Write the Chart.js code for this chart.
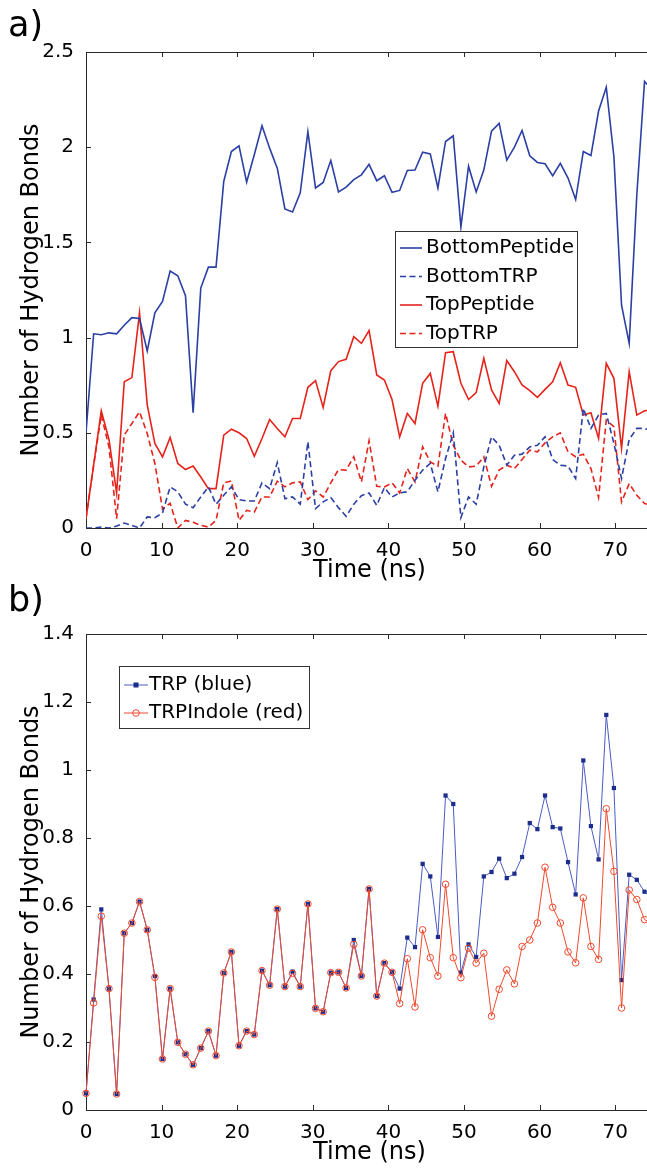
<!DOCTYPE html>
<html>
<head>
<meta charset="utf-8">
<script src="https://cdn.jsdelivr.net/npm/chart.js@4.4.1/dist/chart.umd.min.js"></script>
<style>
  html, body { margin: 0; padding: 0; background: #fff; overflow: hidden; }
  body { width: 647px; height: 1170px; position: relative; }
  .panel { position: absolute; left: 0; width: 660px; height: 585px; }
  #wrapA { top: 0; }
  #wrapB { top: 582px; }
  .tag { position: absolute; left: 8px; font-family: "DejaVu Sans", sans-serif; font-size: 35px; line-height: 35px; color: #000; }
</style>
</head>
<body>
<div class="panel" id="wrapA"><canvas id="chartA" width="660" height="585"></canvas></div>
<div class="panel" id="wrapB"><canvas id="chartB" width="660" height="585"></canvas></div>
<div class="tag" style="top:7px">a)</div>
<div class="tag" style="top:582px">b)</div>
<script>
// Time axis (ns), one sample per frame
const timeNs = [0, 1.01, 2.02, 3.04, 4.05, 5.06, 6.07, 7.08, 8.10, 9.11, 10.12, 11.13, 12.14, 13.16, 14.17,
  15.18, 16.19, 17.20, 18.22, 19.23, 20.24, 21.25, 22.26, 23.28, 24.29, 25.30, 26.31, 27.32, 28.34, 29.35,
  30.36, 31.37, 32.38, 33.40, 34.41, 35.42, 36.43, 37.44, 38.46, 39.47, 40.48, 41.49, 42.50, 43.52, 44.53,
  45.54, 46.55, 47.56, 48.58, 49.59, 50.60, 51.61, 52.62, 53.64, 54.65, 55.66, 56.67, 57.68, 58.70, 59.71,
  60.72, 61.73, 62.74, 63.76, 64.77, 65.78, 66.79, 67.80, 68.82, 69.83, 70.84, 71.85, 72.86, 73.88, 74.89];

// Panel a)
const bottomPeptide = [0.50, 1.02, 1.015, 1.025, 1.02, 1.065, 1.105, 1.10, 0.93, 1.13, 1.19, 1.35, 1.325, 1.22, 0.605,
  1.26, 1.37, 1.37, 1.82, 1.977, 2.007, 1.817, 1.96, 2.113, 1.995, 1.89, 1.676, 1.66, 1.76, 2.082,
  1.786, 1.815, 1.93, 1.765, 1.79, 1.83, 1.855, 1.91, 1.824, 1.85, 1.763, 1.773, 1.878, 1.88, 1.974,
  1.965, 1.786, 2.03, 2.06, 1.58, 1.90, 1.765, 1.88, 2.084, 2.125, 1.932, 2.0, 2.088, 1.955, 1.92,
  1.913, 1.85, 1.915, 1.838, 1.725, 1.977, 1.956, 2.19, 2.315, 1.95, 1.17, 0.97, 1.75, 2.345, 2.3];
const bottomTRP = [0, 0, 0.005, 0, 0.01, 0.026, 0.014, 0, 0.058, 0.054, 0.079, 0.216, 0.19, 0.125, 0.107,
  0.163, 0.216, 0.125, 0.172, 0.216, 0.149, 0.142, 0.142, 0.237, 0.207, 0.344, 0.154, 0.163, 0.125, 0.453,
  0.102, 0.137, 0.16, 0.107, 0.061, 0.125, 0.17, 0.184, 0.119, 0.212, 0.163, 0.184, 0.19, 0.251, 0.304,
  0.339, 0.19, 0.365, 0.5, 0.054, 0.163, 0.125, 0.321, 0.479, 0.435, 0.33, 0.382, 0.388, 0.426, 0.435,
  0.479, 0.36, 0.33, 0.325, 0.26, 0.628, 0.523, 0.593, 0.602, 0.444, 0.26, 0.465, 0.523, 0.523, 0.51];
const topPeptide = [0.05, 0.33, 0.616, 0.465, 0.184, 0.768, 0.79, 1.13, 0.646, 0.444, 0.374, 0.475, 0.339, 0.307, 0.325,
  0.268, 0.207, 0.207, 0.488, 0.519, 0.5, 0.47, 0.377, 0.47, 0.57, 0.523, 0.479, 0.575, 0.575, 0.739,
  0.774, 0.633, 0.826, 0.874, 0.886, 1.005, 0.97, 1.037, 0.804, 0.777, 0.675, 0.479, 0.602, 0.549, 0.76,
  0.812, 0.64, 0.921, 0.926, 0.76, 0.675, 0.711, 0.891, 0.725, 0.654, 0.879, 0.821, 0.751, 0.721, 0.686,
  0.728, 0.768, 0.868, 0.751, 0.739, 0.593, 0.605, 0.47, 0.865, 0.786, 0.418, 0.821, 0.593, 0.616, 0.62];
const topTRP = [0.05, 0.33, 0.593, 0.426, 0.049, 0.488, 0.549, 0.61, 0.496, 0.339, 0.1, 0.13, 0.0, 0.04, 0.03,
  0.014, 0.005, 0.04, 0.237, 0.247, 0.04, 0.093, 0.084, 0.163, 0.163, 0.246, 0.216, 0.237, 0.242, 0.149,
  0.195, 0.163, 0.237, 0.307, 0.304, 0.374, 0.242, 0.458, 0.219, 0.216, 0.237, 0.184, 0.312, 0.242, 0.426,
  0.347, 0.325, 0.602, 0.435, 0.356, 0.321, 0.325, 0.374, 0.219, 0.304, 0.33, 0.312, 0.36, 0.409, 0.4,
  0.447, 0.479, 0.5, 0.4, 0.374, 0.388, 0.312, 0.16, 0.567, 0.532, 0.137, 0.233, 0.172, 0.128, 0.12];

// Panel b)
const trpBlue = [0.049, 0.325, 0.59, 0.357, 0.047, 0.52, 0.55, 0.613, 0.53, 0.394, 0.15, 0.357, 0.199, 0.164, 0.133,
  0.182, 0.232, 0.16, 0.403, 0.465, 0.189, 0.232, 0.222, 0.41, 0.367, 0.591, 0.363, 0.407, 0.363, 0.606,
  0.299, 0.289, 0.404, 0.405, 0.359, 0.50, 0.394, 0.65, 0.335, 0.432, 0.405, 0.357, 0.507, 0.479, 0.724,
  0.687, 0.509, 0.925, 0.90, 0.404, 0.487, 0.45, 0.687, 0.70, 0.739, 0.682, 0.695, 0.744, 0.844, 0.826,
  0.925, 0.832, 0.828, 0.729, 0.634, 1.028, 0.835, 0.737, 1.162, 0.947, 0.382, 0.692, 0.677, 0.642, 0.62];
const trpIndoleRed = [0.049, 0.315, 0.57, 0.357, 0.047, 0.52, 0.55, 0.613, 0.53, 0.39, 0.15, 0.357, 0.199, 0.164, 0.133,
  0.182, 0.232, 0.16, 0.403, 0.465, 0.189, 0.232, 0.222, 0.41, 0.367, 0.591, 0.363, 0.402, 0.363, 0.606,
  0.299, 0.289, 0.404, 0.405, 0.359, 0.487, 0.394, 0.65, 0.335, 0.432, 0.405, 0.313, 0.445, 0.303, 0.53,
  0.448, 0.394, 0.664, 0.448, 0.389, 0.476, 0.432, 0.461, 0.276, 0.355, 0.412, 0.371, 0.481, 0.50, 0.55,
  0.714, 0.596, 0.55, 0.465, 0.433, 0.624, 0.481, 0.443, 0.886, 0.702, 0.30, 0.647, 0.619, 0.56, 0.55];

const xTicks = [0, 10, 20, 30, 40, 50, 60, 70];
const yTicksA = [0, 0.5, 1, 1.5, 2, 2.5];
const yTicksB = [0, 0.2, 0.4, 0.6, 0.8, 1, 1.2, 1.4];

const FONT = '"DejaVu Sans", sans-serif';
const pts = arr => timeNs.map((t, i) => ({ x: t, y: arr[i] }));

// box with inward tick marks, matlab style
const framePlugin = {
  id: 'frame',
  beforeDatasetsDraw(chart) {
    const { ctx, chartArea: a, scales: { x, y } } = chart;
    ctx.save();
    ctx.strokeStyle = '#2a2a2a';
    ctx.lineWidth = 1;
    ctx.strokeRect(Math.round(a.left) + 0.5, Math.round(a.top) + 0.5, Math.round(a.right - a.left), Math.round(a.bottom - a.top));
    ctx.beginPath();
    x.ticks.forEach(t => {
      const px = Math.round(x.getPixelForValue(t.value)) + 0.5;
      ctx.moveTo(px, a.bottom); ctx.lineTo(px, a.bottom - 5);
      ctx.moveTo(px, a.top); ctx.lineTo(px, a.top + 5);
    });
    y.ticks.forEach(t => {
      const py = Math.round(y.getPixelForValue(t.value)) + 0.5;
      ctx.moveTo(a.left, py); ctx.lineTo(a.left + 5, py);
      ctx.moveTo(a.right, py); ctx.lineTo(a.right - 5, py);
    });
    ctx.stroke();
    ctx.restore();
  }
};

// legend box drawn inside the axes
const boxLegend = {
  id: 'boxLegend',
  afterDraw(chart, args, o) {
    const { ctx } = chart;
    ctx.save();
    ctx.fillStyle = '#fff';
    ctx.fillRect(o.left, o.top, o.width, o.height);
    ctx.strokeStyle = '#333';
    ctx.lineWidth = 1;
    ctx.strokeRect(o.left + 0.5, o.top + 0.5, o.width, o.height);
    chart.data.datasets.forEach((ds, i) => {
      const cy = o.top + o.firstRow + i * o.rowH;
      const x0 = o.left + 5, x1 = o.left + 5 + o.lineLen;
      ctx.strokeStyle = ds.borderColor;
      ctx.lineWidth = ds.borderWidth;
      ctx.setLineDash(ds.borderDash || []);
      ctx.beginPath(); ctx.moveTo(x0, cy); ctx.lineTo(x1, cy); ctx.stroke();
      ctx.setLineDash([]);
      const mx = (x0 + x1) / 2;
      if (ds.pointStyle === 'rect') {
        ctx.fillStyle = ds.pointBackgroundColor;
        ctx.fillRect(mx - 2.5, cy - 2.5, 5, 5);
      } else if (ds.pointStyle === 'circle' && ds.pointRadius) {
        ctx.strokeStyle = ds.pointBorderColor;
        ctx.lineWidth = 1;
        ctx.beginPath(); ctx.arc(mx, cy, ds.pointRadius, 0, Math.PI * 2); ctx.stroke();
      }
      ctx.fillStyle = '#000';
      ctx.font = '20px ' + FONT;
      ctx.textBaseline = 'middle';
      ctx.fillText(ds.label, o.left + o.textX, cy);
    });
    ctx.restore();
  }
};

function axes(yMax, yTicks) {
  return {
    x: {
      type: 'linear', min: 0, max: 75,
      afterBuildTicks: s => { s.ticks = xTicks.map(v => ({ value: v })); },
      afterFit: s => { s.height = 57; },
      grid: { display: false }, border: { display: false },
      ticks: { color: '#000', padding: 3, font: { family: FONT, size: 20 }, maxRotation: 0, callback: v => `${v}` },
      title: { display: true, text: 'Time (ns)', color: '#000', font: { family: FONT, size: 24 }, padding: { bottom: 0 } }
    },
    y: {
      type: 'linear', min: 0, max: yMax,
      afterBuildTicks: s => { s.ticks = yTicks.map(v => ({ value: v })); },
      afterFit: s => { s.width = 86; },
      grid: { display: false }, border: { display: false },
      ticks: { color: '#000', padding: 4, font: { family: FONT, size: 20 }, callback: v => `${v}` },
      title: { display: true, text: 'Number of Hydrogen Bonds', color: '#000', font: { family: FONT, size: 24 }, padding: { top: 17 } }
    }
  };
}

const BLUE = '#2b3fa5';
const RED = '#e5231b';

new Chart(document.getElementById('chartA'), {
  type: 'line',
  data: {
    datasets: [
      { label: 'BottomPeptide', data: pts(bottomPeptide), borderColor: BLUE, borderWidth: 1.6, pointRadius: 0, tension: 0 },
      { label: 'BottomTRP', data: pts(bottomTRP), borderColor: BLUE, borderWidth: 1.6, borderDash: [6, 3.5], pointRadius: 0, tension: 0 },
      { label: 'TopPeptide', data: pts(topPeptide), borderColor: RED, borderWidth: 1.6, pointRadius: 0, tension: 0 },
      { label: 'TopTRP', data: pts(topTRP), borderColor: RED, borderWidth: 1.6, borderDash: [6, 3.5], pointRadius: 0, tension: 0 }
    ]
  },
  options: {
    responsive: false, animation: false, devicePixelRatio: 1,
    layout: { padding: { top: 52, right: 7, left: 0, bottom: 0 } },
    scales: axes(2.5, yTicksA),
    plugins: {
      legend: { display: false }, tooltip: { enabled: false },
      boxLegend: { left: 395, top: 231, width: 182, height: 116, firstRow: 17, rowH: 28.5, lineLen: 22, textX: 31 }
    }
  },
  plugins: [framePlugin, boxLegend]
});

new Chart(document.getElementById('chartB'), {
  type: 'line',
  data: {
    datasets: [
      { label: 'TRP (blue)', data: pts(trpBlue), borderColor: '#4a5cc4', borderWidth: 1, order: 2, clip: false,
        pointStyle: 'rect', pointRadius: 3, pointBackgroundColor: '#1c2d8c', pointBorderColor: '#1c2d8c', pointBorderWidth: 0, tension: 0 },
      { label: 'TRPIndole (red)', data: pts(trpIndoleRed), borderColor: '#ef4a2e', borderWidth: 1, order: 1, clip: false,
        pointStyle: 'circle', pointRadius: 3.3, pointBackgroundColor: 'rgba(0,0,0,0)', pointBorderColor: '#ef4a2e', pointBorderWidth: 1, tension: 0 }
    ]
  },
  options: {
    responsive: false, animation: false, devicePixelRatio: 1,
    layout: { padding: { top: 52, right: 7, left: 0, bottom: 0 } },
    scales: axes(1.4, yTicksB),
    plugins: {
      legend: { display: false }, tooltip: { enabled: false },
      boxLegend: { left: 119, top: 84, width: 190, height: 62, firstRow: 19, rowH: 28, lineLen: 24, textX: 30 }
    }
  },
  plugins: [framePlugin, boxLegend]
});
</script>
</body>
</html>
